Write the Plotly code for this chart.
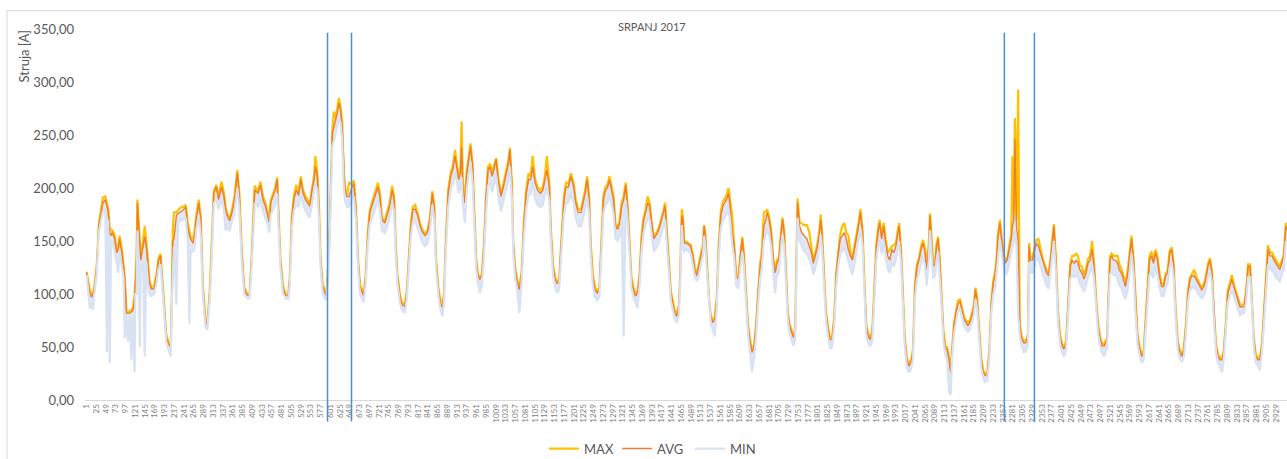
import plotly.graph_objects as go

# quarter-hour index (1..2976 = July 2017), sampled readings
idx = [1,5,9,13,17,20,26,31,36,41,47,51,54,58,61,64,70,75,79,82,88,92,95,99,103,107,111,115,119,121,124,126,129,132,134,140,144,148,152,156,160,167,173,178,183,189,193,197,202,208,211,213,216,222,226,230,234,238,245,250,254,257,263,267,271,277,282,287,293,298,304,308,314,320,326,333,339,343,347,353,359,365,372,377,383,389,396,402,407,414,
       415,423,429,435,441,447,451,454,460,465,470,473,478,484,490,497,501,506,511,517,523,528,534,540,546,550,556,561,564,569,573,577,582,587,591,597,602,606,610,613,618,622,626,630,634,637,642,647,654,659,664,669,674,679,683,688,693,698,703,708,713,718,723,728,735,740,747,753,758,762,766,772,777,784,789,794,799,804,810,816,822,828,834,
       840,846,852,857,861,867,872,877,881,885,891,897,902,908,913,917,921,924,927,932,937,942,946,951,956,960,964,969,974,979,984,989,994,999,1005,1009,1015,1021,1027,1034,1039,1043,1048,1051,1056,1061,1066,1072,1077,1083,1089,1094,1099,1105,1111,1118,1124,1129,1134,1140,1144,1149,1154,1159,1164,1169,1176,1181,1187,1193,1200,1205,1211,1218,1223,1228,1233,1238,1242,1247,
       1252,1258,1263,1268,1273,1278,1283,1288,1293,1298,1303,1308,1313,1318,1323,1328,1333,1338,1342,1347,1352,1357,1362,1367,1372,1377,1382,1387,1392,1397,1402,1407,1412,1417,1421,1425,1429,1434,1439,1444,1449,1454,1459,1462,1466,1469,1472,1478,1484,1488,1493,1498,1503,1508,1513,1518,1521,1524,1528,1533,1537,1542,1547,1552,1557,1562,1567,1571,1576,1581,1585,1590,1595,1600,1605,1610,1615,1619,1624,1629,1634,1639,1644,1649,1654,1659,1663,1668,1673,
       1676,1681,1686,1691,1696,1700,1705,1710,1714,1718,1722,1727,1731,1736,1741,1745,1748,1751,1756,1761,1767,1774,1780,1785,1790,1795,1800,1805,1808,1811,1816,1821,1826,1831,1836,1841,1846,1851,1856,1861,1866,1871,1876,1881,1886,1891,1896,1901,1906,1911,1915,1920,1925,1930,1935,1940,1945,1950,1953,1958,1963,1968,1973,1978,1983,1988,1993,1998,2001,2006,2011,2015,2020,2025,2030,2035,2040,2045,2050,2055,2060,2065,2069,2074,2077,2080,2085,
       2090,2093,2097,2101,2105,2110,2115,2119,2124,2128,2131,2136,2141,2146,2151,2156,2161,2166,2170,2175,2180,2185,2189,2193,2198,2203,2208,2213,2218,2223,2228,2233,2238,2241,2244,2249,2253,2257,2262,2267,2272,2277,2280,2283,2286,2290,2294,2298,2303,2308,2313,2318,2321,2324,2329,2334,2339,2344,2349,2354,2359,2364,2369,2374,2379,2382,2387,2392,2397,2402,2407,2412,2417,2422,2427,2432,2437,2441,2446,2451,2456,2461,2466,2471,2476,2481,2486,2491,2496,2501,2506,2510,
       2513,2516,2520,2524,2529,2534,2539,2543,2548,2553,2558,2563,2568,2573,2578,2583,2588,2593,2598,2603,2607,2612,2617,2622,2627,2632,2637,2642,2647,2652,2657,2662,2667,2672,2677,2682,2687,2692,2697,2702,2707,2712,2717,2722,2727,2732,2736,2741,2746,2751,2756,2761,2766,2771,2776,2781,2786,2791,2796,2800,2805,2810,2815,2820,2825,2830,2835,2840,2845,2850,2855,2860,2865,2870,2874,2879,2884,2889,2894,2899,2904,2909,2914,2919,2924,2928,2933,2938,2943,2948,2953,2958]

avg_vals = [120,110,101,97,100,105,126,164,177,186,189,184,178,158,155,158,152,139,142,152,139,125,114,82,82,82,83,85,94,110,132,186,163,140,132,145,154,145,126,110,105,105,117,132,136,107,80,60,53,50,101,150,152,174,176,177,178,179,182,163,155,152,148,155,170,186,170,107,76,70,101,132,195,201,189,201,192,180,174,169,177,189,214,192,139,105,99,99,132,195,
            198,195,203,189,183,174,167,186,192,198,208,180,132,107,99,98,114,170,189,198,193,208,195,189,186,183,198,208,220,211,180,132,107,101,98,132,195,252,258,262,271,280,274,258,214,198,192,192,201,204,180,132,107,101,98,117,155,177,183,189,195,201,192,170,167,174,183,198,189,145,117,98,90,88,101,132,164,180,180,174,164,158,155,
            158,170,195,180,132,104,91,87,101,148,195,211,217,230,217,208,214,239,201,186,214,227,239,220,170,132,117,114,117,145,189,217,220,211,220,227,205,192,201,214,223,236,201,148,123,111,104,120,164,195,208,208,220,205,198,195,198,208,217,201,158,126,114,110,111,145,189,201,201,211,201,186,177,177,186,195,208,189,145,117,
            104,101,104,148,189,198,200,208,198,189,164,161,167,183,189,203,180,139,114,104,98,101,117,152,170,177,186,183,164,152,155,158,164,170,177,183,158,126,101,91,82,79,88,117,174,170,148,148,146,145,136,123,117,126,136,145,164,155,129,94,79,73,76,94,145,174,183,186,189,195,183,158,145,117,114,136,152,136,101,70,55,45,50,70,101,126,136,164,170,
            177,170,158,132,120,129,132,155,170,158,126,82,70,64,59,64,132,186,164,158,155,152,145,139,129,136,145,158,170,158,120,82,67,57,57,76,117,139,152,155,158,152,142,136,132,142,152,164,177,158,117,70,60,57,64,101,145,161,167,152,164,148,136,132,142,139,145,158,164,139,101,57,38,32,35,45,107,126,132,142,148,139,123,145,174,158,126,
            129,145,152,132,101,64,48,48,38,26,45,70,82,91,93,85,76,73,70,73,79,88,104,94,70,38,26,23,24,45,91,111,120,132,152,167,152,139,129,132,142,152,164,170,246,164,150,70,57,54,54,60,145,132,132,139,148,145,139,132,126,120,117,132,152,164,132,82,60,51,48,54,88,126,132,129,132,129,123,120,114,120,129,132,142,126,94,70,57,51,51,54,
            57,94,132,136,132,132,129,123,120,114,107,117,132,152,132,91,60,48,41,45,70,101,132,136,129,139,132,117,107,107,117,120,139,142,126,82,54,45,41,48,70,101,114,117,117,114,111,107,104,107,114,126,132,120,82,51,41,38,38,45,70,101,107,114,107,101,94,88,88,88,101,126,126,94,57,41,38,38,51,82,117,142,136,136,132,129,126,123,129,136,164,160]

max_vals = [121,112,103,100,102,107,128,166,180,191,192,187,181,162,160,160,156,141,144,155,141,127,116,84,83,84,85,87,99,112,140,189,166,143,135,150,164,150,128,112,107,107,119,134,138,109,82,62,55,52,103,160,177,177,179,181,182,182,184,167,158,154,152,160,175,189,173,110,78,71,103,135,197,203,192,206,195,182,176,171,180,192,217,195,141,107,100,100,134,198,
            202,197,206,192,186,176,169,188,195,200,210,182,134,109,100,99,116,172,192,203,196,211,198,192,188,185,200,212,230,214,182,134,109,104,100,134,197,256,272,266,275,285,277,262,216,200,194,205,204,207,182,134,109,104,100,119,157,179,186,192,198,205,195,172,169,176,186,202,192,147,119,100,92,90,103,134,166,182,184,176,166,160,157,
            160,172,197,182,134,106,93,89,103,150,198,214,220,236,220,212,218,263,205,190,217,230,242,223,172,134,119,116,119,147,191,220,223,214,223,228,208,195,204,217,226,238,204,150,125,113,106,122,166,198,214,211,230,208,201,198,201,211,230,204,160,128,116,112,113,147,192,205,204,214,204,189,180,180,189,198,211,192,147,119,
            107,103,106,150,192,201,203,211,201,192,166,163,169,186,192,205,183,141,116,106,100,103,119,154,172,180,192,186,166,154,157,160,166,172,179,186,160,128,103,93,84,81,90,119,180,172,150,149,147,146,138,125,119,128,138,147,165,157,131,96,81,75,78,96,147,177,187,190,193,200,186,174,147,119,116,138,154,138,103,72,57,47,52,72,103,129,140,177,178,
            180,173,161,134,122,132,134,157,172,160,128,84,72,66,61,66,134,190,168,167,165,165,158,145,132,139,148,161,175,160,122,84,69,59,59,78,119,141,156,164,167,158,155,140,134,145,155,167,180,160,119,72,62,59,66,103,147,164,170,155,167,151,139,142,145,146,148,161,167,141,103,59,40,34,37,47,109,128,134,145,151,142,125,148,176,160,128,
            133,147,154,134,103,66,50,50,40,28,47,72,84,94,95,87,78,75,73,75,81,90,106,96,72,40,28,25,26,47,93,113,123,135,155,170,155,141,131,134,145,156,230,177,266,170,293,72,59,56,56,62,148,134,135,142,151,152,142,134,128,122,119,134,155,166,134,84,62,53,50,56,90,128,136,136,138,136,127,126,118,124,133,136,150,128,96,72,59,53,53,56,
            59,96,135,138,136,136,136,128,124,118,110,120,135,155,134,93,62,50,43,47,72,103,135,140,132,142,135,119,109,109,119,122,141,144,128,84,56,47,43,50,72,103,116,119,123,117,113,109,107,109,116,128,134,122,84,53,43,40,40,47,72,103,110,118,109,103,96,90,90,90,103,128,128,96,59,43,40,40,53,84,119,146,139,139,135,132,129,126,131,138,167,163]

min_vals = [118,104,86,92,85,100,120,158,170,178,180,45,170,35,148,150,140,130,120,140,125,115,58,76,55,78,38,78,26,100,100,160,130,50,120,130,41,130,110,100,98,100,110,124,128,100,74,55,48,41,95,120,145,90,168,168,170,170,172,150,72,140,140,145,160,175,155,100,70,66,95,125,185,190,180,190,180,160,162,160,168,178,200,180,130,100,96,96,125,185,
            186,182,190,178,172,165,158,175,180,185,195,170,125,101,96,95,108,160,178,185,182,195,184,178,174,172,186,196,205,198,170,125,100,96,94,125,185,240,245,250,258,265,262,245,200,188,182,182,190,192,170,125,100,95,92,110,145,166,172,178,184,188,180,160,157,164,172,186,178,136,110,92,85,82,95,124,154,168,168,162,154,148,145,
            148,160,184,170,124,98,85,79,94,138,182,198,204,215,204,195,200,210,185,167,200,212,225,205,160,124,110,101,108,135,175,202,205,196,205,212,190,178,188,200,208,220,188,140,115,104,82,112,152,180,194,194,205,190,184,182,184,194,200,188,148,118,107,101,104,135,175,186,186,195,186,172,164,164,172,180,192,175,135,108,
            97,94,97,138,176,184,186,194,184,176,152,150,155,170,60,188,168,130,106,97,91,87,108,140,158,164,172,170,152,140,143,146,152,158,165,170,148,118,94,85,76,73,80,108,165,145,140,142,140,138,128,116,112,118,128,136,155,145,120,88,73,66,60,86,135,162,170,172,175,180,170,146,134,108,105,125,140,126,93,62,45,26,40,60,90,115,124,150,156,
            162,156,145,120,101,118,120,142,156,145,115,75,63,57,51,56,120,172,150,145,140,138,132,128,118,124,132,145,156,145,110,75,60,48,50,68,106,126,138,140,143,138,130,124,118,130,140,150,162,145,106,62,53,51,56,90,132,148,152,138,150,135,124,120,130,126,132,145,150,128,92,50,31,26,29,38,95,114,120,130,135,126,108,132,160,145,115,
            118,132,140,120,92,56,42,38,7,5,38,62,75,84,86,78,70,67,64,67,72,80,95,86,62,31,20,17,18,38,82,100,108,120,138,152,140,128,118,120,130,138,145,150,160,145,80,60,50,45,46,52,130,120,120,126,135,132,126,120,114,108,105,120,140,150,120,74,53,45,41,47,80,114,118,116,118,116,110,106,102,108,116,120,128,114,86,62,50,44,41,46,
            50,85,118,122,118,118,114,108,106,100,95,104,118,138,120,82,52,42,35,38,62,92,118,120,115,125,118,106,98,98,106,110,126,130,115,74,47,39,36,41,62,92,104,106,106,104,101,98,96,98,104,116,122,110,74,45,35,31,26,38,62,92,98,104,98,92,86,80,82,82,92,116,116,86,50,35,32,28,44,74,106,128,124,122,120,116,114,112,118,124,150,148]

tick_vals = list(range(1, 2977, 24))
tick_text = [str(v) for v in tick_vals]
y_ticks = [0, 50, 100, 150, 200, 250, 300, 350]
event_idx = [594, 653, 2260, 2334]  # marked intervals (blue vertical lines)

FONT = "Lato, 'Open Sans', sans-serif"
GREY = "#595959"
C_MAX, C_AVG, C_MIN = "#FFC000", "#ED7D31", "#D9E2F3"

fig = go.Figure()
# light band between MIN and AVG (no legend)
fig.add_trace(go.Scatter(x=idx, y=avg_vals, mode="lines", line=dict(width=0, color=C_MIN),
                         showlegend=False, hoverinfo="skip"))
fig.add_trace(go.Scatter(x=idx, y=min_vals, mode="lines", line=dict(width=0, color=C_MIN),
                         fill="tonexty", fillcolor="rgba(217,226,243,0.85)",
                         showlegend=False, hoverinfo="skip"))
fig.add_trace(go.Scatter(x=idx, y=max_vals, name="MAX", mode="lines",
                         line=dict(color=C_MAX, width=2.2)))
fig.add_trace(go.Scatter(x=idx, y=avg_vals, name="AVG", mode="lines",
                         line=dict(color=C_AVG, width=1.4)))
fig.add_trace(go.Scatter(x=idx, y=min_vals, name="MIN", mode="lines",
                         line=dict(color=C_MIN, width=2.2)))

shapes = []
for e in event_idx:
    shapes.append(dict(type="line", xref="x", yref="paper", x0=e, x1=e,
                       y0=-0.058, y1=0.99, line=dict(color="#4A8FDB", width=1.5)))
# chart area border (left + top)
shapes.append(dict(type="line", xref="paper", yref="paper", x0=-0.0649, x1=-0.0649,
                   y0=1.0493, y1=-0.2, line=dict(color="#D9D9D9", width=1)))
shapes.append(dict(type="line", xref="paper", yref="paper", x0=-0.0649, x1=1.05,
                   y0=1.0493, y1=1.0493, line=dict(color="#D9D9D9", width=1)))

fig.update_layout(
    width=1287, height=459,
    margin=dict(l=85, r=0, t=29, b=59, autoexpand=False),
    paper_bgcolor="white", plot_bgcolor="white",
    separators=",.",
    font=dict(family=FONT, color=GREY),
    showlegend=True,
    legend=dict(orientation="h", x=0.473, xanchor="center", y=-0.131, yanchor="middle",
                font=dict(size=13, color=GREY), traceorder="normal",
                entrywidth=28, entrywidthmode="pixels", itemwidth=30),
    shapes=shapes,
    annotations=[
        dict(text="SRPANJ 2017", xref="paper", yref="paper", x=0.4717, y=1.008,
             showarrow=False, font=dict(size=11, color=GREY), xanchor="center", yanchor="middle"),
        dict(text="Struja [A]", xref="paper", yref="paper", x=-0.0507, y=0.926,
             textangle=-90, showarrow=False, font=dict(size=13, color=GREY),
             xanchor="center", yanchor="middle"),
    ],
)
fig.update_xaxes(range=[-3, 2955.8], tickmode="array", tickvals=tick_vals, ticktext=tick_text,
                 tickangle=-90, tickfont=dict(size=8, color="#7F7F7F"), showgrid=False, zeroline=False,
                 showline=True, linecolor="#D9D9D9", linewidth=1, ticks="", automargin=False)
fig.update_yaxes(range=[0, 350], tickmode="array", tickvals=y_ticks, tickformat=".2f",
                 tickfont=dict(size=13, color=GREY), showgrid=False, zeroline=False,
                 showline=False, ticks="", ticklabelstandoff=10, automargin=False)

fig.write_html("out.html", config={"displayModeBar": False},
               post_script="document.body.style.margin='0';document.body.style.overflow='hidden';")
